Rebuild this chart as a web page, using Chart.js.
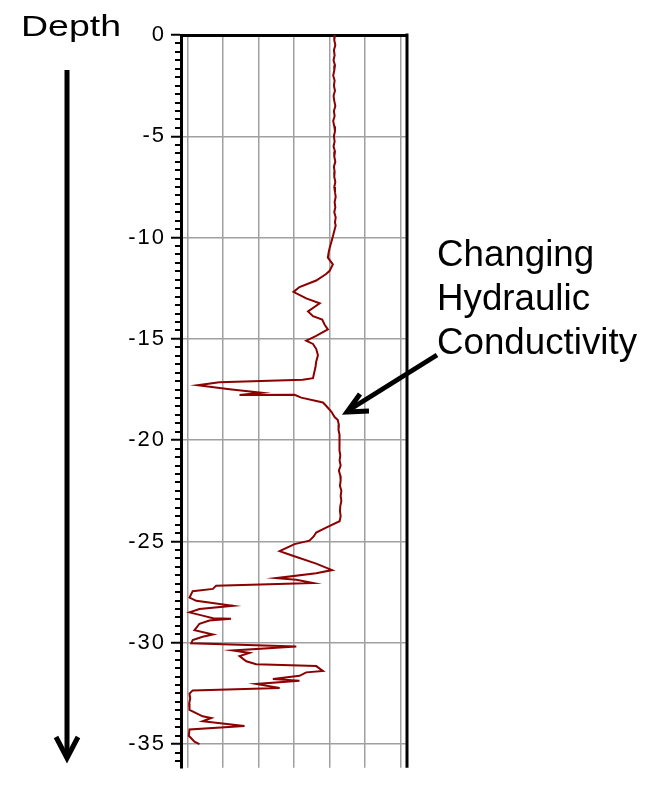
<!DOCTYPE html>
<html>
<head>
<meta charset="utf-8">
<script src="https://cdn.jsdelivr.net/npm/chart.js"></script>
<style>
  html, body { margin: 0; padding: 0; overflow: hidden; background: #fff; }
  #wrap { position: relative; width: 660px; height: 786px; }
  canvas { position: absolute; left: 0; top: 0; }
  .txt { position: absolute; font-family: "Liberation Sans", Arial, sans-serif; color: #000; white-space: nowrap; transform-origin: 0 0; }
  #depth { left: 21px; top: 11px; font-size: 30px; line-height: 30px; transform: scaleX(1.25); }
  #note { left: 437px; top: 232px; font-size: 36px; line-height: 44px; transform: scaleX(1.02); }
  svg { position: absolute; left: 0; top: 0; }
</style>
</head>
<body>
<div id="wrap">
  <canvas id="grafico" width="660" height="786"></canvas>
  <svg width="660" height="786">
    <line x1="67" y1="70" x2="67" y2="754" stroke="#000" stroke-width="5"/>
    <polyline points="56,737 67,758 78,737" fill="none" stroke="#000" stroke-width="5"/>
    <line x1="437" y1="355" x2="349" y2="410" stroke="#000" stroke-width="5"/>
    <polyline points="360,394 347,412 369,411" fill="none" stroke="#000" stroke-width="5"/>
  </svg>
  <div class="txt" id="depth">Depth</div>
  <div class="txt" id="note">Changing<br>Hydraulic<br>Conductivity</div>
</div>
<script>
// profundidad (m, negativa hacia abajo)
const depths = [
  0, -0.25, -0.5, -0.75, -1.0, -1.25, -1.5, -1.75, -2.0, -2.25, -2.5, -2.75, -3.0, -3.25,
  -3.5, -3.75, -4.0, -4.25, -4.5, -4.75, -5.0, -5.25, -5.5, -5.75, -6.0, -6.25, -6.5, -6.75,
  -7.0, -7.25, -7.5, -7.75, -8.0, -8.25, -8.5, -8.75, -9.0, -9.25, -9.4,
  -9.95, -10.2, -10.51, -10.75, -10.99, -11.32, -11.64, -11.80, -12.12, -12.44, -12.68, -13.00,
  -13.24, -13.64, -13.88, -14.05, -14.3, -14.53, -14.85, -15.09, -15.25, -15.49, -15.81, -16.13,
  -16.4, -16.62, -16.94,
  -17.02, -17.14, -17.29, -17.48, -17.66, -17.77, -17.76, -17.90, -18.14, -18.30, -18.6, -18.86,
  -19.0, -19.25, -19.5, -19.75, -20.0, -20.25, -20.5, -20.75, -21.0, -21.25, -21.5, -21.75,
  -22.0, -22.25, -22.5, -22.75, -23.0, -23.25, -23.5, -23.75, -24.0,
  -24.32, -24.56, -24.75, -24.96, -25.13, -25.48, -25.68, -26.09, -26.41, -26.57, -26.81, -26.89,
  -27.05, -27.18, -27.34, -27.45, -27.77, -27.93, -28.17,
  -28.33, -28.50, -28.66, -28.79, -28.81, -28.90, -29.06, -29.38, -29.59, -29.70, -29.86,
  -30.02, -30.18, -30.38, -30.50, -30.66, -30.91, -31.06, -31.15, -31.39, -31.46, -31.63,
  -31.79, -31.87, -32.03, -32.23, -32.35, -32.51, -32.75, -33.00, -33.31, -33.63, -33.71, -33.87,
  -34.11, -34.28, -34.59, -34.88, -35.00
];
// lectura del sensor
const readings = [
  4.15, 4.13, 4.16, 4.12, 4.14, 4.11, 4.15, 4.13, 4.10, 4.14, 4.12, 4.15, 4.11, 4.13,
  4.16, 4.12, 4.14, 4.10, 4.13, 4.15, 4.12, 4.14, 4.11, 4.15, 4.13, 4.16, 4.12, 4.14,
  4.13, 4.16, 4.13, 4.15, 4.17, 4.14, 4.16, 4.13, 4.17, 4.15, 4.17,
  4.09, 4.05, 4.00, 3.97, 3.95, 4.09, 4.00, 3.90, 3.62, 3.15, 2.98, 3.34,
  3.72, 3.39, 3.53, 3.79, 3.86, 3.95, 3.62, 3.34, 3.53, 3.62, 3.67, 3.62,
  3.60, 3.57, 3.53,
  3.24, 0.89, 0.28, 1.18, 2.08, 1.46, 3.01, 3.20, 3.81, 3.90, 4.05, 4.14,
  4.23, 4.26, 4.25, 4.28, 4.27, 4.29, 4.27, 4.30, 4.28, 4.31, 4.26, 4.30,
  4.31, 4.29, 4.33, 4.31, 4.33, 4.30, 4.29, 4.31, 4.28,
  3.90, 3.62, 3.55, 3.43, 3.01, 2.59, 2.92, 3.62, 4.07, 3.62, 2.49, 3.06,
  3.53, 0.80, 0.71, 0.14, 0.05, 0.24, 1.27,
  0.33, 0.05, 0.42, 0.71, 1.22, 0.61, 0.33, 0.19, 0.71, 0.42, 0.14,
  0.10, 3.06, 1.27, 1.74, 1.46, 1.65, 1.93, 3.62, 3.81, 3.34, 3.15,
  2.40, 3.15, 1.93, 2.59, 0.14, 0.05, 0.07, 0.04, 0.05, 0.42, 0.66, 0.42,
  1.60, 0.05, 0.03, 0.19, 0.33
];
const yTicks = [0, -5, -10, -15, -20, -25, -30, -35];
const xGrid = [0, 1, 2, 3, 4, 5, 6];

const puntos = depths.map((d, i) => ({ x: readings[i], y: d }));

const decor = {
    id: 'decor',
    beforeDraw(chart) {
        chart.ctx.letterSpacing = '2px';
    },
    afterDraw(chart) {
        const ctx = chart.ctx;
        ctx.letterSpacing = '0px';
        const sy = chart.scales.y;
        const a = chart.chartArea;
        ctx.save();
        ctx.strokeStyle = '#000';
        ctx.lineWidth = 2;
        ctx.beginPath();
        for (let i = 1; -i * 5 / 12 >= sy.min; i++) {
            if (i % 12 === 0) continue;
            const p = Math.round(sy.getPixelForValue(-i * 5 / 12));
            ctx.moveTo(a.left - 6, p);
            ctx.lineTo(a.left, p);
        }
        ctx.stroke();
        ctx.lineWidth = 3;
        ctx.beginPath();
        ctx.moveTo(a.right, a.top - 1.5);
        ctx.lineTo(a.right, a.bottom);
        ctx.stroke();
        ctx.restore();
    }
};

new Chart(document.getElementById('grafico'), {
    type: 'line',
    data: {
        datasets: [{
            data: puntos,
            borderColor: '#8b0000',
            borderWidth: 2,
            pointRadius: 0,
            tension: 0,
            fill: false
        }]
    },
    options: {
        responsive: false,
        animation: false,
        layout: { padding: { top: 35, left: 0, right: 253, bottom: 0 } },
        plugins: { legend: { display: false }, tooltip: { enabled: false } },
        scales: {
            x: {
                type: 'linear',
                position: 'top',
                min: -0.19,
                max: 6.18,
                afterBuildTicks: s => { s.ticks = xGrid.map(v => ({ value: v })); },
                ticks: { display: false },
                grid: { color: '#a0a0a0', lineWidth: 1.5, drawTicks: false },
                border: { color: '#000', width: 3 }
            },
            y: {
                type: 'linear',
                min: -36.17,
                max: 0,
                afterBuildTicks: s => { s.ticks = yTicks.map(v => ({ value: v })); },
                afterFit: s => { s.width = 181; },
                ticks: {
                    color: '#000',
                    padding: 5,
                    font: { family: 'Liberation Sans', size: 22 },
                    callback: v => String(v)
                },
                grid: { color: '#a0a0a0', lineWidth: 1.5, tickLength: 10, tickColor: '#000', tickWidth: 2 },
                border: { color: '#000', width: 3 }
            }
        }
    },
    plugins: [decor]
});
</script>
</body>
</html>
